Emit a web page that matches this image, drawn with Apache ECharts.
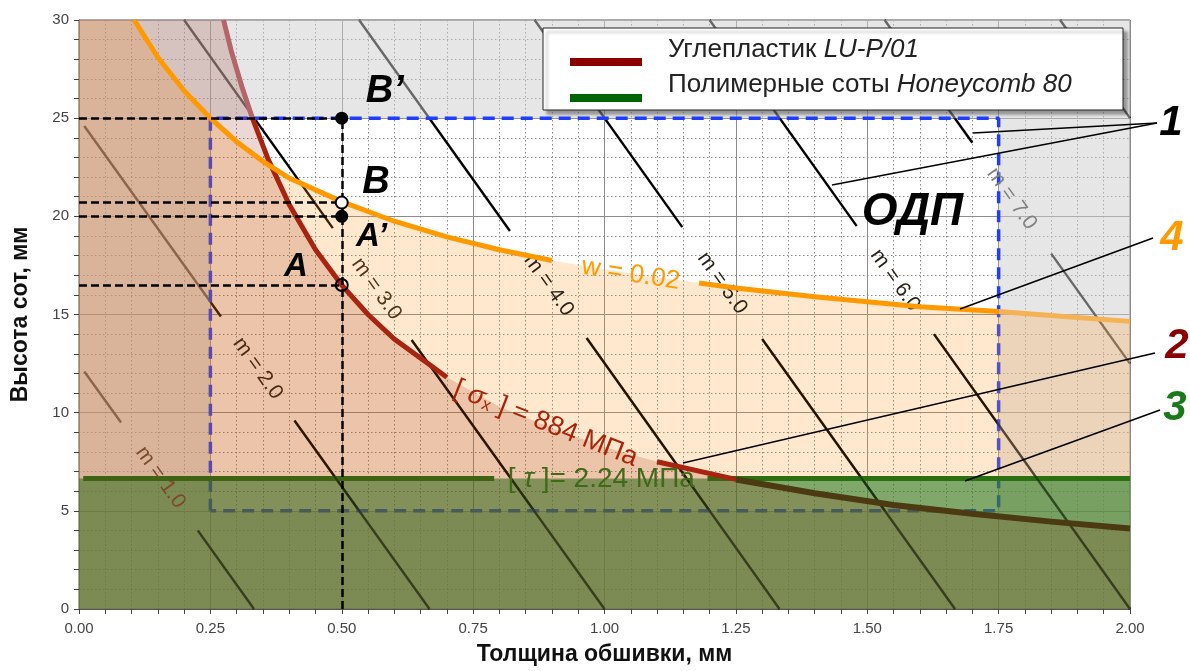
<!DOCTYPE html>
<html>
<head>
<meta charset="utf-8">
<script src="https://cdn.jsdelivr.net/npm/echarts@6/dist/echarts.min.js"></script>
<style>
  html, body { margin: 0; padding: 0; background: #fff; }
  #chart { width: 1190px; height: 671px; }
</style>
</head>
<body>
<div id="chart"></div>
<script>
// skin thickness t (mm) vs honeycomb height h (mm)

// strength limit of the carbon skin, [sigma_x] = 884 MPa
const redT = [0.275, 0.29, 0.31, 0.33, 0.36, 0.40, 0.45, 0.50, 0.55, 0.60, 0.70, 0.80, 0.90, 1.00, 1.10, 1.25, 1.40, 1.55, 1.70, 1.85, 2.00]
const redH = [30.0, 28.4, 26.6, 25.0, 22.9, 20.6, 18.3, 16.5, 15.0, 13.75, 11.8, 10.3, 9.2, 8.25, 7.5, 6.6, 5.9, 5.3, 4.85, 4.45, 4.1]

// deflection limit w = 0.02
const wT = [0.105, 0.15, 0.20, 0.25, 0.30, 0.35, 0.40, 0.50, 0.60, 0.70, 0.80, 0.90, 1.00, 1.10, 1.18, 1.25, 1.40, 1.50, 1.60, 1.75, 1.90, 2.00]
const wH = [30.0, 28.1, 26.4, 25.0, 23.8, 22.8, 21.95, 20.75, 19.75, 18.95, 18.3, 17.75, 17.3, 16.9, 16.6, 16.35, 15.9, 15.65, 15.4, 15.15, 14.85, 14.65]

// shear limit of the honeycomb, [tau] = 2.24 MPa
const tauH = 6.65

// admissible design region (ОДП)
const odpT = [0.25, 1.75]
const odpH = [5, 25]

// mass isolines, visible pieces: m, t1, h1, t2, h2
const mSegments = [
  [1, 0.01, 12.1, 0.08, 9.5], [1, 0.226, 4.0, 0.333, 0],
  [2, 0.01, 24.6, 0.27, 14.9], [2, 0.41, 9.6, 0.667, 0],
  [3, 0.20, 30, 0.483, 19.4], [3, 0.633, 13.7, 1.0, 0],
  [4, 0.533, 30, 0.82, 19.25], [4, 0.966, 13.8, 1.333, 0],
  [5, 0.867, 30, 1.148, 19.45], [5, 1.30, 13.75, 1.667, 0],
  [6, 1.20, 30, 1.48, 19.5], [6, 1.627, 14.0, 2.0, 0],
  [7, 1.533, 30, 1.70, 23.75], [7, 1.85, 18.1, 2.0, 12.5],
  [8, 1.867, 30, 2.0, 25.0],
]
const mLabelValues = [1, 2, 3, 4, 5, 6, 7]
const mLabelT = [0.155, 0.34, 0.566, 0.894, 1.224, 1.553, 1.775]
const mLabelH = [6.7, 12.25, 16.3, 16.5, 16.6, 16.75, 20.9]
const mLabelColors = ["#7a4a2c", "#4a2a14", "#4a3a18", "#2a2218", "#2a2218", "#2a2218", "#808080"]

// design points at t = 0.5
const pointNames = ["B’", "B", "A’", "A"]
const pointT = 0.5
const pointH = [25, 20.7, 20.0, 16.5]
const pointFill = ["#000", "#fff", "#000", "rgba(0,0,0,0)"]
const pointLabelT = [0.582, 0.565, 0.557, 0.413]
const pointLabelH = [26.35, 21.7, 18.95, 17.4]

const xTicks = [0, 0.25, 0.5, 0.75, 1.0, 1.25, 1.5, 1.75, 2.0]
const yTicks = [0, 5, 10, 15, 20, 25, 30]

const FONT = "Liberation Sans, Arial, sans-serif"

const pick = (T, H, i0, i1) => {
  const out = []
  for (let i = i0; i <= i1; i++) out.push([T[i], H[i]])
  return out
}

const chartInstance = echarts.init(document.getElementById("chart"))

const xMin = xTicks[0], xMax = xTicks[xTicks.length - 1]
const yMin = yTicks[0], yMax = yTicks[yTicks.length - 1]

// grey zone outside the ODP rectangle
const greyBands = [
  [xMin, odpH[1], xMax, yMax],
  [odpT[1], yMin, xMax, odpH[1]],
  [xMin, yMin, odpT[0], odpH[1]],
  [odpT[0], yMin, odpT[1], odpH[0]],
]

// lower isoline pieces look darker (they run through the filled zones)
const lowerSegments = mSegments.filter((s) => s[1] >= 0.2 && s[2] < 15)

const redSub = "{a|[ }{s|σ}{x|x}{a| ] = 884 МПа}"
const tauTxt = "{a|[ }{s|τ}{a| ]= 2.24 МПа}"

const textItems = [
  { value: [1.586, 20.2], label: { formatter: "ОДП", fontSize: 46, fontWeight: "bold", fontStyle: "italic", color: "#000" } },
  { value: [1.05, 17.05], label: { formatter: "w = 0.02", fontSize: 26, rotate: -9, color: "#ff9a00" } },
  {
    value: [0.888, 9.45],
    label: {
      formatter: redSub, rotate: -21.5,
      rich: {
        a: { fontSize: 27, color: "#a82408", fontFamily: FONT },
        s: { fontSize: 27, color: "#a82408", fontStyle: "italic", fontFamily: FONT },
        x: { fontSize: 17, color: "#a82408", verticalAlign: "bottom", fontFamily: FONT },
      },
    },
  },
  {
    value: [0.994, 6.62],
    label: {
      formatter: tauTxt,
      rich: {
        a: { fontSize: 28, color: "#3f6a1a", fontFamily: FONT },
        s: { fontSize: 28, color: "#3f6a1a", fontStyle: "italic", fontFamily: FONT },
      },
    },
  },
]
pointNames.forEach((n, i) => {
  textItems.push({
    value: [pointLabelT[i], pointLabelH[i]],
    label: { formatter: n, fontSize: i < 2 ? 38 : 33, fontWeight: "bold", fontStyle: "italic", color: "#000" },
  })
})

chartInstance.setOption({
  animation: false,
  textStyle: { fontFamily: FONT },
  grid: {
    left: 79, right: 60, top: 20, bottom: 59,
    show: true, backgroundColor: "#fff", borderColor: "#555", borderWidth: 1,
  },
  xAxis: {
    type: "value", min: xMin, max: xMax, interval: 0.25,
    name: "Толщина обшивки, мм", nameLocation: "middle", nameGap: 34,
    nameTextStyle: { fontSize: 23, fontWeight: "bold", color: "#111" },
    axisLine: { show: true, onZero: false, lineStyle: { color: "#555" } },
    axisTick: { show: true, length: 5, lineStyle: { color: "#444" } },
    minorTick: { show: true, splitNumber: 5, length: 5, lineStyle: { color: "#444" } },
    axisLabel: { formatter: (v) => v.toFixed(2), fontSize: 15, color: "#444", margin: 12 },
    splitLine: { show: true, lineStyle: { color: "#8c8c8c", width: 1 } },
    minorSplitLine: { show: true, lineStyle: { color: "#888", width: 1, type: [1.5, 2.5] } },
  },
  yAxis: {
    type: "value", min: yMin, max: yMax, interval: 5,
    name: "Высота сот, мм", nameLocation: "middle", nameGap: 47,
    nameTextStyle: { fontSize: 23, fontWeight: "bold", color: "#111" },
    axisLine: { show: true, lineStyle: { color: "#555" } },
    axisTick: { show: true, length: 5, lineStyle: { color: "#444" } },
    minorTick: { show: true, splitNumber: 5, length: 5, lineStyle: { color: "#444" } },
    axisLabel: { fontSize: 15, color: "#444", margin: 10 },
    splitLine: { show: true, lineStyle: { color: "#8c8c8c", width: 1 } },
    minorSplitLine: { show: true, lineStyle: { color: "#888", width: 1, type: [1.5, 2.5] } },
  },
  series: [
    {
      // mass isolines
      type: "lines", coordinateSystem: "cartesian2d", z: 2, silent: true,
      lineStyle: { color: "#000", width: 2.4, opacity: 1 },
      data: mSegments.map((s) => ({ coords: [[s[1], s[2]], [s[3], s[4]]] })),
    },
    {
      type: "custom", z: 3, silent: true,
      encode: { x: [0, 2], y: [1, 3] },
      renderItem: (params, api) => {
        const p0 = api.coord([api.value(0), api.value(1)])
        const p1 = api.coord([api.value(2), api.value(3)])
        return {
          type: "rect",
          shape: { x: Math.min(p0[0], p1[0]), y: Math.min(p0[1], p1[1]),
            width: Math.abs(p1[0] - p0[0]), height: Math.abs(p1[1] - p0[1]) },
          style: { fill: "rgba(205,205,205,0.5)" },
        }
      },
      data: greyBands,
    },
    {
      // ODP border
      type: "line", z: 4, silent: true, showSymbol: false,
      lineStyle: { color: "#1f3cff", width: 3.5, type: [12, 7] },
      data: [[odpT[0], odpH[0]], [odpT[0], odpH[1]], [odpT[1], odpH[1]], [odpT[1], odpH[0]], [odpT[0], odpH[0]]],
    },
    {
      type: "line", z: 5, silent: true, showSymbol: false,
      lineStyle: { opacity: 0 },
      areaStyle: { color: "rgba(255,150,30,0.32)", origin: "start" },
      data: [[xMin, yMax]].concat(pick(wT, wH, 0, wT.length - 1)),
    },
    {
      type: "line", z: 6, silent: true, showSymbol: false,
      lineStyle: { opacity: 0 },
      areaStyle: { color: "rgba(34,121,33,0.82)", origin: "start" },
      data: [[xMin, tauH], [xMax, tauH]],
    },
    {
      type: "lines", coordinateSystem: "cartesian2d", z: 7, silent: true, polyline: true,
      lineStyle: { color: "#2a7010", width: 5, opacity: 1 },
      data: [
        { coords: [[0.008, tauH], [0.79, tauH]] },
        { coords: [[1.196, tauH], [xMax, tauH]] },
      ],
    },
    {
      type: "line", z: 8, silent: true, showSymbol: false,
      lineStyle: { opacity: 0 },
      areaStyle: { color: "rgba(150,40,20,0.27)", origin: "start" },
      data: [[xMin, yMax]].concat(pick(redT, redH, 0, redT.length - 1)),
    },
    {
      type: "lines", coordinateSystem: "cartesian2d", z: 8, silent: true,
      lineStyle: { color: "#000", width: 2.2, opacity: 0.4 },
      data: lowerSegments.map((s) => ({ coords: [[s[1], s[2]], [s[3], s[4]]] })),
    },
    {
      // mass labels
      type: "scatter", z: 9, silent: true, symbolSize: 1,
      itemStyle: { color: "rgba(0,0,0,0)", opacity: 1 },
      data: mLabelT.map((t, i) => ({
        value: [t, mLabelH[i]],
        label: { show: true, position: "inside", rotate: -54.6, fontSize: 21, color: mLabelColors[i], opacity: 1,
          formatter: "m = " + mLabelValues[i].toFixed(1) },
      })),
    },
    {
      type: "lines", coordinateSystem: "cartesian2d", z: 10, silent: true, polyline: true,
      lineStyle: { width: 5, opacity: 1 },
      data: [
        { coords: pick(redT, redH, 0, 3), lineStyle: { color: "#b5646a" } },
        { coords: pick(redT, redH, 3, 10), lineStyle: { color: "#a82410" } },
        { coords: pick(redT, redH, 14, 15), lineStyle: { color: "#a82410" } },
        { coords: pick(redT, redH, 15, 20), lineStyle: { color: "#4b3a12", width: 6 } },
        { coords: pick(wT, wH, 0, 11), lineStyle: { color: "#ff9900" } },
        { coords: pick(wT, wH, 14, 19), lineStyle: { color: "#ff9900" } },
        { coords: pick(wT, wH, 19, 21), lineStyle: { color: "#f5b255" } },
      ],
    },
    {
      // projections of the design points
      type: "lines", coordinateSystem: "cartesian2d", z: 11, silent: true,
      lineStyle: { color: "#000", width: 2.5, type: [8, 4], opacity: 1 },
      data: pointH.map((h) => ({ coords: [[xMin, h], [pointT, h]] }))
        .concat([{ coords: [[pointT, yMin], [pointT, pointH[0]]] }]),
    },
    {
      type: "scatter", z: 12, silent: true, symbol: "circle",
      data: pointH.map((h, i) => ({
        value: [pointT, h],
        symbolSize: pointFill[i] === "#000" ? 13 : 12,
        itemStyle: { color: pointFill[i], borderColor: "#000", borderWidth: pointFill[i] === "#000" ? 0 : 2, opacity: 1 },
      })),
    },
    {
      type: "scatter", z: 13, silent: true, symbolSize: 1,
      itemStyle: { color: "rgba(0,0,0,0)", opacity: 1 },
      label: { show: true, position: "inside", opacity: 1 },
      data: textItems,
    },
  ],
  graphic: [
    {
      type: "rect", z: 100, silent: true,
      shape: { x: 543, y: 28, width: 580, height: 82 },
      style: { fill: "#fff", stroke: "#222", lineWidth: 1,
        shadowColor: "rgba(0,0,0,0.35)", shadowOffsetX: 4, shadowOffsetY: 4, shadowBlur: 3 },
    },
    { type: "line", z: 101, silent: true, shape: { x1: 570, y1: 62, x2: 642, y2: 62 }, style: { stroke: "#8b0000", lineWidth: 8 } },
    { type: "line", z: 101, silent: true, shape: { x1: 570, y1: 98, x2: 642, y2: 98 }, style: { stroke: "#006400", lineWidth: 8 } },
    {
      type: "text", z: 101, silent: true, x: 668, y: 50,
      style: {
        text: "{n|Углепластик }{i|LU-P/01}", verticalAlign: "middle", fill: "#222",
        rich: { n: { fontSize: 26, fontFamily: FONT, fill: "#222" }, i: { fontSize: 26, fontFamily: FONT, fontStyle: "italic", fill: "#222" } },
      },
    },
    {
      type: "text", z: 101, silent: true, x: 668, y: 85,
      style: {
        text: "{n|Полимерные соты }{i|Honeycomb 80}", verticalAlign: "middle", fill: "#222",
        rich: { n: { fontSize: 26, fontFamily: FONT, fill: "#222" }, i: { fontSize: 26, fontFamily: FONT, fontStyle: "italic", fill: "#222" } },
      },
    },
    // callouts
    { type: "line", z: 90, silent: true, shape: { x1: 1157, y1: 123, x2: 973, y2: 133 }, style: { stroke: "#000", lineWidth: 1.5 } },
    { type: "line", z: 90, silent: true, shape: { x1: 1157, y1: 123, x2: 832, y2: 185 }, style: { stroke: "#000", lineWidth: 1.5 } },
    { type: "line", z: 90, silent: true, shape: { x1: 1153, y1: 238, x2: 960, y2: 309 }, style: { stroke: "#000", lineWidth: 1.5 } },
    { type: "line", z: 90, silent: true, shape: { x1: 1155, y1: 353, x2: 683, y2: 463 }, style: { stroke: "#000", lineWidth: 1.5 } },
    { type: "line", z: 90, silent: true, shape: { x1: 1160, y1: 410, x2: 965, y2: 481 }, style: { stroke: "#000", lineWidth: 1.5 } },
    { type: "text", z: 101, silent: true, x: 1171, y: 123, style: { text: "1", font: "italic bold 42px " + FONT, fill: "#000", align: "center", verticalAlign: "middle" } },
    { type: "text", z: 101, silent: true, x: 1172, y: 238, style: { text: "4", font: "italic bold 42px " + FONT, fill: "#ff9a00", align: "center", verticalAlign: "middle" } },
    { type: "text", z: 101, silent: true, x: 1177, y: 346, style: { text: "2", font: "italic bold 42px " + FONT, fill: "#8b0000", align: "center", verticalAlign: "middle" } },
    { type: "text", z: 101, silent: true, x: 1175, y: 408, style: { text: "3", font: "italic bold 42px " + FONT, fill: "#1a7a1a", align: "center", verticalAlign: "middle" } },
  ],
})

window.addEventListener("resize", () => chartInstance.resize())
</script>
</body>
</html>
